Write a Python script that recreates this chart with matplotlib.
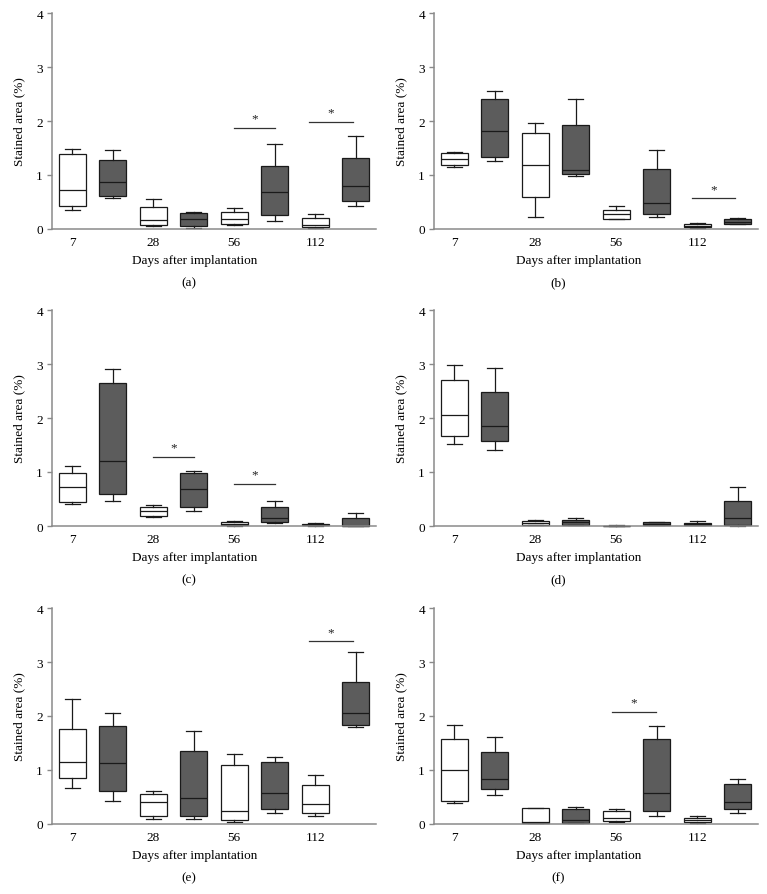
import matplotlib
matplotlib.use("Agg")
import matplotlib.pyplot as plt

plt.rcParams['font.family'] = ['Liberation Serif', 'DejaVu Serif']

days = ["7", "28", "56", "112"]

# box order: white 7, grey 7, white 28, grey 28, white 56, grey 56, white 112, grey 112
a_low = [0.35, 0.57, 0.06, 0.02, 0.07, 0.15, 0.02, 0.43]
a_q1 = [0.43, 0.62, 0.08, 0.06, 0.10, 0.26, 0.04, 0.52]
a_med = [0.73, 0.87, 0.17, 0.185, 0.185, 0.69, 0.08, 0.80]
a_q3 = [1.38, 1.27, 0.40, 0.30, 0.32, 1.17, 0.20, 1.31]
a_high = [1.49, 1.46, 0.55, 0.31, 0.39, 1.57, 0.28, 1.72]
a_sig = [(5.0, 6.0, 1.87), (6.85, 7.92, 1.99)]

b_low = [1.14, 1.26, 0.22, 0.98, 0.185, 0.23, 0.02, 0.09]
b_q1 = [1.19, 1.34, 0.60, 1.01, 0.19, 0.27, 0.03, 0.09]
b_med = [1.29, 1.81, 1.18, 1.10, 0.27, 0.49, 0.05, 0.13]
b_q3 = [1.41, 2.41, 1.77, 1.92, 0.35, 1.12, 0.09, 0.185]
b_high = [1.43, 2.55, 1.96, 2.41, 0.43, 1.46, 0.11, 0.21]
b_sig = [(6.87, 7.93, 0.57)]

c_low = [0.41, 0.47, 0.16, 0.28, 0.005, 0.055, 0.005, 0.0]
c_q1 = [0.44, 0.60, 0.19, 0.36, 0.01, 0.08, 0.01, 0.0]
c_med = [0.715, 1.20, 0.27, 0.68, 0.03, 0.15, 0.02, 0.0]
c_q3 = [0.98, 2.64, 0.35, 0.99, 0.07, 0.36, 0.04, 0.14]
c_high = [1.11, 2.90, 0.39, 1.01, 0.10, 0.47, 0.055, 0.25]
c_sig = [(3.0, 4.0, 1.28), (5.0, 6.0, 0.78)]

d_low = [1.51, 1.40, 0.01, 0.02, 0.0, 0.01, 0.015, 0.0]
d_q1 = [1.66, 1.57, 0.013, 0.025, 0.002, 0.015, 0.02, 0.01]
d_med = [2.06, 1.86, 0.05, 0.07, 0.005, 0.04, 0.035, 0.14]
d_q3 = [2.70, 2.48, 0.087, 0.12, 0.008, 0.065, 0.06, 0.47]
d_high = [2.98, 2.92, 0.12, 0.155, 0.01, 0.07, 0.087, 0.73]
d_sig = []

e_low = [0.67, 0.43, 0.09, 0.09, 0.045, 0.21, 0.14, 1.80]
e_q1 = [0.86, 0.62, 0.14, 0.155, 0.075, 0.27, 0.21, 1.84]
e_med = [1.14, 1.13, 0.41, 0.48, 0.235, 0.57, 0.365, 2.05]
e_q3 = [1.76, 1.81, 0.55, 1.36, 1.10, 1.15, 0.73, 2.63]
e_high = [2.32, 2.05, 0.62, 1.73, 1.29, 1.25, 0.915, 3.18]
e_sig = [(6.85, 7.92, 3.38)]

f_low = [0.38, 0.54, 0.01, 0.01, 0.045, 0.155, 0.025, 0.20]
f_q1 = [0.43, 0.64, 0.02, 0.02, 0.06, 0.25, 0.04, 0.28]
f_med = [1.00, 0.83, 0.04, 0.08, 0.105, 0.575, 0.07, 0.41]
f_q3 = [1.58, 1.33, 0.29, 0.28, 0.235, 1.58, 0.12, 0.74]
f_high = [1.84, 1.62, 0.30, 0.31, 0.28, 1.82, 0.15, 0.83]
f_sig = [(4.9, 5.97, 2.08)]

panels = [
    ("(a)", a_low, a_q1, a_med, a_q3, a_high, a_sig),
    ("(b)", b_low, b_q1, b_med, b_q3, b_high, b_sig),
    ("(c)", c_low, c_q1, c_med, c_q3, c_high, c_sig),
    ("(d)", d_low, d_q1, d_med, d_q3, d_high, d_sig),
    ("(e)", e_low, e_q1, e_med, e_q3, e_high, e_sig),
    ("(f)", f_low, f_q1, f_med, f_q3, f_high, f_sig),
]

W, H = 767, 895
fig = plt.figure(figsize=(W / 100, H / 100), dpi=100)

col_left = [52, 434]
axis_w = 324
row_top = [14, 311, 609]
axis_h = 216

spine_col = '#8a8a8a'
edge_col = '#1a1a1a'
grey_fill = '#5c5c5c'
fs = 9.5

positions = list(range(1, 9))

for i, (lab, lo, q1, med, q3, hi, sig) in enumerate(panels):
    r, c = divmod(i, 2)
    x0 = col_left[c] / W
    y0 = 1 - (row_top[r] + axis_h) / H
    ax = fig.add_axes([x0, y0, axis_w / W, axis_h / H])
    stats = []
    for k in range(8):
        stats.append(dict(whislo=lo[k], q1=q1[k], med=med[k], q3=q3[k],
                          whishi=hi[k], fliers=[]))
    bp = ax.bxp(stats, positions=positions, widths=0.665, patch_artist=True,
                showfliers=False, capwidths=0.37, manage_ticks=False,
                boxprops=dict(edgecolor=edge_col, linewidth=0.9),
                whiskerprops=dict(color=edge_col, linewidth=0.9),
                capprops=dict(color=edge_col, linewidth=0.9),
                medianprops=dict(color=edge_col, linewidth=0.9))
    for k, box in enumerate(bp['boxes']):
        box.set_facecolor('white' if k % 2 == 0 else grey_fill)
    for art in bp['boxes'] + bp['whiskers'] + bp['caps'] + bp['medians']:
        art.set_clip_on(False)
    for (xs, xe, yv) in sig:
        ax.plot([xs, xe], [yv, yv], color='#333333', linewidth=0.9)
        ax.text((xs + xe) / 2, yv + 0.06, "*", ha='center', va='bottom',
                fontsize=fs, color='#222222')
    ax.set_xlim(0.5, 8.5)
    ax.set_ylim(0, 4)
    ax.set_yticks([0, 1, 2, 3, 4])
    ax.set_xticks([1, 3, 5, 7])
    ax.set_xticklabels(days)
    for s in ['top', 'right']:
        ax.spines[s].set_visible(False)
    for s in ['left', 'bottom']:
        ax.spines[s].set_color(spine_col)
        ax.spines[s].set_linewidth(1.1)
    ax.tick_params(axis='y', direction='out', length=3.5, width=1.0,
                   color=spine_col, labelsize=fs, pad=3)
    ax.tick_params(axis='x', length=0, labelsize=fs, pad=5)
    ax.set_ylabel("Stained area (%)", fontsize=fs, labelpad=8)
    xl = 0.441 if c == 0 else 0.448
    ax.text(xl, -0.115, "Days after implantation", transform=ax.transAxes,
            ha='center', va='top', fontsize=fs)
    xc = 0.423 if c == 0 else 0.382
    ax.text(xc, -0.22, lab, transform=ax.transAxes, ha='center', va='top',
            fontsize=fs)

fig.savefig("out.png", dpi=100)
